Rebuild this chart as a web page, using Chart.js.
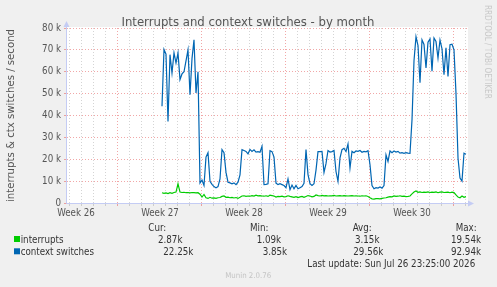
<!DOCTYPE html>
<html>
<head>
<meta charset="utf-8">
<title>Interrupts and context switches - by month</title>
<script src="https://cdn.jsdelivr.net/npm/chart.js@4/dist/chart.umd.min.js"></script>
<style>
  html, body { margin: 0; padding: 0; background: #f0f0f0; }
  canvas { display: block; }
</style>
</head>
<body>
<canvas id="graph" width="497" height="287" style="width:497px;height:287px"></canvas>
<script>
// time is in days from Monday 00:00 of week 27, one sample every 4 hours
var firstSample = 3 + 16 / 24;
var sampleStep = 4 / 24;

// values in thousands per second
var interrupts = [
  4.7, 4.4, 4.6, 4.3, 4.7, 4.4, 4.8, 5.0, 8.8, 5.0,
  4.8, 4.9, 4.7, 4.8, 4.6, 4.8, 4.7, 4.6, 4.7, 4.0,
  2.7, 3.9, 2.4, 2.1, 2.6, 2.2, 2.3, 2.1, 2.4, 2.5,
  3.0, 3.2, 2.6, 2.7, 2.4, 2.6, 2.3, 2.5, 2.1, 2.6,
  3.2, 3.3, 3.0, 3.2, 3.1, 3.4, 3.2, 3.6, 3.3, 3.4,
  3.2, 3.1, 3.3, 3.0, 3.6, 3.4, 3.2, 2.7, 3.0, 2.9,
  3.1, 2.8, 2.9, 3.3, 3.0, 2.8, 2.6, 2.9, 2.5, 2.8,
  3.0, 2.6, 3.0, 3.4, 3.2, 2.8, 3.0, 3.7, 3.4, 3.2,
  3.5, 3.3, 3.4, 3.2, 3.3, 3.3, 3.5, 3.2, 3.3, 3.4,
  3.2, 3.4, 3.3, 3.2, 3.3, 3.4, 3.2, 3.3, 3.2, 3.1,
  3.3, 3.2, 3.3, 3.0, 2.4, 1.9, 1.8, 2.0, 2.0, 1.9,
  2.1, 2.3, 2.4, 2.7, 2.9, 2.8, 3.2, 3.0, 3.1, 3.3,
  3.0, 3.1, 2.9, 3.0, 3.2, 4.2, 5.0, 5.5, 4.9, 5.1,
  4.8, 5.0, 4.9, 5.1, 4.8, 5.0, 4.9, 5.1, 4.7, 5.0,
  5.1, 4.8, 4.9, 5.0, 4.7, 5.0, 4.8, 3.7, 2.7, 2.4,
  3.2, 2.6, 2.9
];
var contextSwitches = [
  44.2, 70.2, 68, 37.3, 67.8, 59.4, 68.6, 64, 68.6, 56.4,
  59, 60, 65, 70, 49.5, 66, 74.6, 50.3, 60, 9.1,
  10.5, 8, 21, 23, 9.9, 8.5, 7.5, 6.9, 7.5, 11,
  24.4, 23, 14, 9.5, 9.2, 8.8, 9.2, 8.4, 9.5, 12.9,
  24.4, 24, 23.6, 22.5, 24.5, 23.6, 24.3, 23.3, 23.5, 23.2,
  25.9, 8.4, 8.5, 8.8, 23.9, 23.5, 21, 9.1, 8.4, 8.8,
  8.4, 8, 7, 11, 6.1, 8.2, 6.5, 8, 6.5, 7,
  7.5, 9, 24.4, 13, 8.8, 8, 8.8, 15, 23.5, 23.5,
  23.6, 14, 18, 24, 23.3, 23.5, 24, 14.4, 9.9, 20.6,
  24.4, 25, 23.5, 27, 16, 23.6, 23, 23.8, 23.6, 24,
  23.2, 23.6, 23.4, 23.9, 17.5, 8, 6.5, 7, 6.8, 7.3,
  6.8, 8, 22, 19, 23.8, 23, 23.8, 23.3, 23.6, 22.8,
  23, 22.7, 23, 22.8, 22.7, 38, 65, 76, 72, 55,
  74.6, 72.5, 61.7, 73.5, 75, 60.2, 75.4, 73.8, 66.3, 74.5,
  70.5, 58.6, 71, 57.9, 72.4, 72.6, 70, 50, 20.6, 11.4,
  10, 22.8, 22.3
];

var weekLabels = ["Week 26", "Week 27", "Week 28", "Week 29", "Week 30"];
var weekCenters = [-3.5, 3.5, 10.5, 17.5, 24.5];
var xMin = -4.25, xMax = 29.1667;
var yMax = 80, yStep = 5;

var seriesNames = ["interrupts", "context switches"];
var seriesColors = ["#00cc00", "#0066b3"];
var statHeaders = ["Cur:", "Min:", "Avg:", "Max:"];
var curValues = ["2.87k", "22.25k"];
var minValues = ["1.09k", "3.85k"];
var avgValues = ["3.15k", "29.56k"];
var maxValues = ["19.54k", "92.94k"];
var lastUpdate = "Last update: Sun Jul 26 23:25:00 2026";
var footer = "Munin 2.0.76";

var FONT = '"DejaVu Sans Condensed", "DejaVu Sans", sans-serif';
var RED_GRID = 'rgba(230, 95, 95, 0.55)';
var GRAY_GRID = 'rgba(160, 160, 160, 0.45)';
var AXIS = '#c4ccf4';

function toPoints(values) {
  return values.map(function (v, i) {
    return { x: firstSample + i * sampleStep, y: v };
  });
}

function font(size) {
  return size + 'px ' + FONT;
}

var muninFrame = {
  id: 'muninFrame',
  beforeDraw: function (chart) {
    var ctx = chart.ctx, a = chart.chartArea;
    ctx.save();
    ctx.fillStyle = '#f0f0f0';
    ctx.fillRect(0, 0, chart.width, chart.height);
    ctx.fillStyle = '#ffffff';
    ctx.fillRect(a.left, a.top - 1, a.right - a.left, a.bottom - a.top + 1);
    ctx.restore();
  },
  beforeDatasetsDraw: function (chart) {
    var ctx = chart.ctx, a = chart.chartArea;
    var x0 = Math.round(a.left) - 0.5, y0 = Math.round(a.bottom) + 0.5;
    ctx.save();
    ctx.strokeStyle = AXIS;
    ctx.fillStyle = AXIS;
    ctx.lineWidth = 1;
    ctx.beginPath();
    ctx.moveTo(x0, y0);
    ctx.lineTo(x0, a.top - 4);
    ctx.moveTo(x0, y0);
    ctx.lineTo(a.right + 2, y0);
    ctx.stroke();
    ctx.beginPath();
    ctx.moveTo(x0, a.top - 7);
    ctx.lineTo(x0 - 3, a.top - 1);
    ctx.lineTo(x0 + 3, a.top - 1);
    ctx.closePath();
    ctx.fill();
    ctx.beginPath();
    ctx.moveTo(a.right + 6, y0);
    ctx.lineTo(a.right, y0 - 3);
    ctx.lineTo(a.right, y0 + 3);
    ctx.closePath();
    ctx.fill();
    ctx.restore();
  },
  afterDraw: function (chart) {
    var ctx = chart.ctx;
    ctx.save();
    ctx.textBaseline = 'alphabetic';

    ctx.fillStyle = '#555';
    ctx.font = font(13);
    ctx.textAlign = 'center';
    ctx.fillText('Interrupts and context switches - by month', 248, 25.5);

    ctx.save();
    ctx.translate(485, 5);
    ctx.rotate(Math.PI / 2);
    ctx.textAlign = 'left';
    ctx.fillStyle = '#c8c8c8';
    ctx.font = font(8.1);
    ctx.fillText('RRDTOOL / TOBI OETIKER', 0, 0);
    ctx.restore();

    ctx.textAlign = 'left';
    ctx.font = font(9.7);
    ctx.fillStyle = '#333';
    var headX = [148.3, 250, 352.7, 455.7];
    statHeaders.forEach(function (h, i) { ctx.fillText(h, headX[i], 230.7); });

    var rowY = [242.5, 254.8];
    var colX = [[158, 256.7, 355, 451], [163.3, 262.7, 353.3, 451]];
    seriesNames.forEach(function (name, r) {
      ctx.fillStyle = seriesColors[r];
      ctx.fillRect(14, rowY[r] - 6.5, 6, 6);
      ctx.fillStyle = '#333';
      ctx.fillText(name, 20.7, rowY[r]);
      var vals = [curValues[r], minValues[r], avgValues[r], maxValues[r]];
      vals.forEach(function (v, c) { ctx.fillText(v, colX[r][c], rowY[r]); });
    });
    ctx.fillText(lastUpdate, 307.3, 266.7);

    ctx.fillStyle = '#c4c4c4';
    ctx.font = font(7.8);
    ctx.fillText(footer, 225.3, 277.5);
    ctx.restore();
  }
};

var ctx = document.getElementById('graph').getContext('2d');
var chart = new Chart(ctx, {
  type: 'line',
  data: {
    datasets: [{
      label: seriesNames[0],
      data: toPoints(interrupts),
      borderColor: seriesColors[0],
      borderWidth: 1.2,
      pointRadius: 0,
      tension: 0
    }, {
      label: seriesNames[1],
      data: toPoints(contextSwitches),
      borderColor: seriesColors[1],
      borderWidth: 1.2,
      pointRadius: 0,
      tension: 0
    }]
  },
  options: {
    responsive: false,
    animation: false,
    devicePixelRatio: 1,
    layout: { padding: { top: 28, right: 29, bottom: 64, left: 0 } },
    plugins: {
      legend: { display: false },
      tooltip: { enabled: false },
      title: { display: false }
    },
    scales: {
      x: {
        type: 'linear',
        min: xMin,
        max: xMax,
        afterBuildTicks: function (scale) {
          var ticks = [];
          for (var d = -4; d <= 29; d++) ticks.push({ value: d });
          weekCenters.forEach(function (c) { ticks.push({ value: c }); });
          ticks.sort(function (a, b) { return a.value - b.value; });
          scale.ticks = ticks;
        },
        afterFit: function (scale) { scale.height = 20; },
        ticks: {
          autoSkip: false,
          maxRotation: 0,
          padding: 2,
          color: '#555',
          font: { family: FONT, size: 9.7 },
          callback: function (value) {
            var i = weekCenters.indexOf(value);
            return i >= 0 ? weekLabels[i] : '';
          }
        },
        grid: {
          tickLength: 3,
          color: function (c) {
            var v = c.tick.value;
            if (v !== Math.round(v)) return 'rgba(0,0,0,0)';
            return v % 7 === 0 ? RED_GRID : GRAY_GRID;
          }
        },
        border: { display: false, dash: [1, 2] }
      },
      y: {
        min: 0,
        max: yMax,
        afterFit: function (scale) { scale.width = 67; },
        ticks: {
          stepSize: yStep,
          padding: 3,
          color: '#555',
          font: { family: FONT, size: 9.7 },
          callback: function (value) {
            if (value % 10 !== 0) return '';
            return value === 0 ? '0' : value + ' k';
          }
        },
        grid: {
          tickLength: 3,
          color: function (c) {
            return c.tick.value % 10 === 0 ? RED_GRID : GRAY_GRID;
          }
        },
        border: { display: false, dash: [1, 2] },
        title: {
          display: true,
          text: 'interrupts & ctx switches / second',
          color: '#555',
          font: { family: FONT, size: 11.3 },
          padding: { top: 4, bottom: 0 }
        }
      }
    }
  },
  plugins: [muninFrame]
});
</script>
</body>
</html>
